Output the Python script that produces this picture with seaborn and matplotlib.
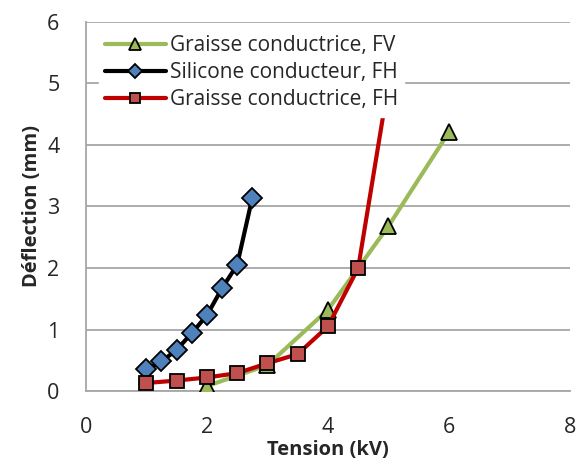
import matplotlib.pyplot as plt
import seaborn as sns
import pandas as pd

# Graisse conductrice, FV
fv_x = [2, 3, 4, 5, 6]
fv_y = [0.08, 0.42, 1.32, 2.68, 4.21]

# Silicone conducteur, FH
sil_x = [1, 1.25, 1.5, 1.75, 2, 2.25, 2.5, 2.75]
sil_y = [0.35, 0.48, 0.67, 0.94, 1.23, 1.67, 2.05, 3.14]

# Graisse conductrice, FH
fh_x = [1, 1.5, 2, 2.5, 3, 3.5, 4, 4.5, 5]
fh_y = [0.13, 0.17, 0.22, 0.29, 0.45, 0.6, 1.05, 2.0, 5.0]

sns.set_style("white")
plt.rcParams['font.family'] = ['Open Sans', 'DejaVu Sans']

fig = plt.figure(figsize=(5.84, 4.63), dpi=100)
ax = fig.add_axes([0.147, 0.1555, 0.829, 0.797])

sns.lineplot(x=fv_x, y=fv_y, ax=ax, color="#9bbb59", lw=3, marker="^", ms=11,
             mfc="#9bbb59", mec="black", mew=1.3, label="Graisse conductrice, FV",
             zorder=3)
sns.lineplot(x=sil_x, y=sil_y, ax=ax, color="black", lw=3, marker="D", ms=10,
             mfc="#4f81bd", mec="black", mew=1.3, label="Silicone conducteur, FH",
             zorder=4)
sns.lineplot(x=fh_x, y=fh_y, ax=ax, color="#c00000", lw=3, marker="s", ms=10,
             mfc="#c0504d", mec="black", mew=1.3, label="Graisse conductrice, FH",
             zorder=5)

ax.set_xlim(0, 8)
ax.set_ylim(0, 6)
ax.set_xticks([0, 2, 4, 6, 8])
ax.set_yticks([0, 1, 2, 3, 4, 5, 6])
ax.yaxis.grid(True, color="#a6a6a6", lw=1.3)
ax.set_axisbelow(True)
for s in ["top", "right"]:
    ax.spines[s].set_visible(False)
for s in ["left", "bottom"]:
    ax.spines[s].set_color("#a6a6a6")
    ax.spines[s].set_linewidth(1.3)
ax.tick_params(axis="x", direction="out", length=8, width=1.3, color="#a6a6a6",
               labelsize=15.5, pad=11)
ax.tick_params(axis="y", direction="inout", length=16, width=1.3, color="#a6a6a6",
               labelsize=15.5, pad=11)
ax.set_xlabel("Tension (kV)", fontsize=14.5, fontweight="bold", labelpad=1)
ax.set_ylabel("Déflection (mm)", fontsize=14.5, fontweight="bold", labelpad=4)

leg = ax.legend(loc="upper left", bbox_to_anchor=(0.027, 0.982), frameon=True,
                fontsize=15, handlelength=2.9, labelspacing=0.3, markerscale=0.75,
                borderpad=0.3, handletextpad=0.2, borderaxespad=0)
leg.get_frame().set_edgecolor("white")
leg.get_frame().set_alpha(1)
leg.get_frame().set_boxstyle("square", pad=0)
leg.set_zorder(10)

fig.savefig("out.png", dpi=100)
